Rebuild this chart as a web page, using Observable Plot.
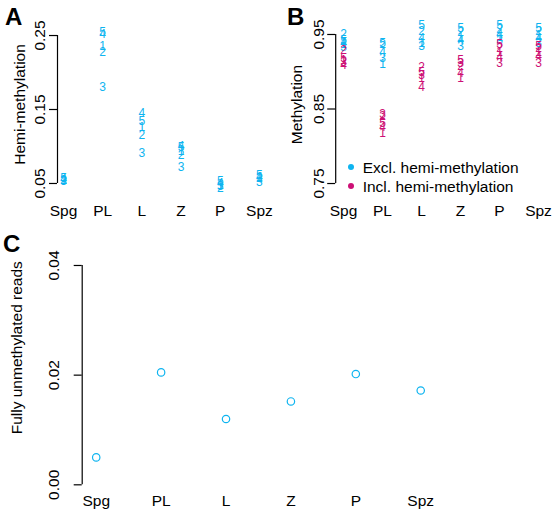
<!DOCTYPE html>
<html><head><meta charset="utf-8">
<script src="https://cdn.jsdelivr.net/npm/d3@7"></script>
<script src="https://cdn.jsdelivr.net/npm/@observablehq/plot@0.6"></script>
<style>
body{margin:0;background:#fff;}
#wrap{position:relative;width:554px;height:509px;font-family:"Liberation Sans",Arial,Helvetica,sans-serif;color:#000;overflow:hidden;background:#fff}
.panel{position:absolute}
.letter{position:absolute;font-weight:bold;font-size:24px;line-height:24px}
.legend{position:absolute;font-size:15.5px;line-height:19px;white-space:nowrap}
.legend .dot{display:inline-block;width:6px;height:6px;border-radius:50%;margin-right:9px;vertical-align:middle;position:relative;top:-1px}
</style></head><body><div id="wrap"></div>
<script>
// ---- data ----
const stages = ["Spg", "PL", "L", "Z", "P", "Spz"];
const stagePos = [1, 2, 3, 4, 5, 6];
const replicates = ["1", "2", "3", "4", "5"];

// Panel A: hemi-methylation, replicates 1..5 per stage
const hemiSpg = [0.055, 0.054, 0.053, 0.056, 0.057];
const hemiPL  = [0.236, 0.227, 0.180, 0.252, 0.254];
const hemiL   = [0.126, 0.115, 0.0905, 0.145, 0.134];
const hemiZ   = [0.094, 0.088, 0.072, 0.101, 0.099];
const hemiP   = [0.048, 0.044, 0.046, 0.050, 0.053];
const hemiSpz = [0.058, 0.057, 0.052, 0.059, 0.061];

// Panel B: methylation excluding hemi-methylation (cyan)
const exclSpg = [0.9366, 0.950, 0.9325, 0.939, 0.942];
const exclPL  = [0.910, 0.937, 0.918, 0.926, 0.939];
const exclL   = [0.939, 0.955, 0.935, 0.945, 0.962];
const exclZ   = [0.947, 0.953, 0.934, 0.942, 0.959];
const exclP   = [0.946, 0.957, 0.942, 0.951, 0.962];
const exclSpz = [0.949, 0.954, 0.939, 0.945, 0.959];

// Panel B: methylation including hemi-methylation (magenta)
const inclSpg = [0.915, 0.9285, 0.913, 0.909, 0.918];
const inclPL  = [0.818, 0.840, 0.843, 0.826, 0.831];
const inclL   = [0.891, 0.906, 0.895, 0.879, 0.899];
const inclZ   = [0.891, 0.908, 0.912, 0.898, 0.915];
const inclP   = [0.926, 0.931, 0.911, 0.920, 0.937];
const inclSpz = [0.926, 0.931, 0.911, 0.9205, 0.935];

// Panel C: fully unmethylated reads
const unmeth = [0.0050, 0.0205, 0.0120, 0.0152, 0.0202, 0.0172];

// tick values
const yTicksA = [0.05, 0.15, 0.25];
const yTicksB = [0.75, 0.85, 0.95];
const yTicksC = [0, 0.02, 0.04];

const legendLabels = ["Excl. hemi-methylation", "Incl. hemi-methylation"];
const cyan = "#0EB4F0";
const magenta = "#CD1076";
const font = '"Liberation Sans", Arial, Helvetica, sans-serif';

function rows(byStage) {
  return byStage.flatMap((vals, i) => vals.map((v, r) => ({x: stagePos[i], y: v, label: replicates[r]})));
}
const hemiRows = rows([hemiSpg, hemiPL, hemiL, hemiZ, hemiP, hemiSpz]);
const exclRows = rows([exclSpg, exclPL, exclL, exclZ, exclP, exclSpz]);
const inclRows = rows([inclSpg, inclPL, inclL, inclZ, inclP, inclSpz]);
const unmethRows = unmeth.map((v, i) => ({x: stagePos[i], y: v}));

const baseStyle = {fontFamily: font, fontSize: "15.5px", color: "#000", background: "transparent", overflow: "visible"};
const wrap = document.getElementById("wrap");
function place(el, left, top) {
  const d = document.createElement("div");
  d.className = "panel";
  d.style.left = left + "px"; d.style.top = top + "px";
  d.appendChild(el); wrap.appendChild(d);
}

// ---- Panel A ----
const xA0 = 0.847;
const A = Plot.plot({
  width: 277, height: 225, marginLeft: 57, marginRight: 10.2, marginTop: 24, marginBottom: 27,
  x: {domain: [xA0, 6.2]},
  y: {domain: [0.0297, 0.2649]},
  style: baseStyle,
  marks: [
    Plot.ruleX([xA0], {y1: yTicksA[0], y2: yTicksA[2], stroke: "#000", strokeWidth: 1.2}),
    Plot.axisY({ticks: yTicksA, tickFormat: d3.format(".2f"), tickRotate: -90, tickSize: 8, tickPadding: 5, label: null, strokeWidth: 1.2}),
    Plot.axisX({ticks: stagePos, tickFormat: d => stages[d - 1], tickSize: 0, tickPadding: 6, label: null}),
    Plot.text(["Hemi-methylation"], {x: xA0, y: 0.1568, rotate: -90, dx: -33, lineAnchor: "bottom", textAnchor: "middle"}),
    Plot.text(hemiRows, {x: "x", y: "y", text: "label", fill: cyan, fontSize: 12})
  ]
});
place(A, 0, 0);

// ---- Panel B ----
const xB0 = 0.8;
const B = Plot.plot({
  width: 277, height: 225, marginLeft: 58.2, marginRight: 8.2, marginTop: 24, marginBottom: 27,
  x: {domain: [xB0, 6.2]},
  y: {domain: [0.7299, 0.9634]},
  style: baseStyle,
  marks: [
    Plot.ruleX([xB0], {y1: yTicksB[0], y2: yTicksB[2], stroke: "#000", strokeWidth: 1.2}),
    Plot.axisY({ticks: yTicksB, tickFormat: d3.format(".2f"), tickRotate: -90, tickSize: 8, tickPadding: 4, label: null, strokeWidth: 1.2}),
    Plot.axisX({ticks: stagePos, tickFormat: d => stages[d - 1], tickSize: 0, tickPadding: 6, label: null}),
    Plot.text(["Methylation"], {x: xB0, y: 0.856, rotate: -90, dx: -34, lineAnchor: "bottom", textAnchor: "middle"}),
    Plot.text(exclRows, {x: "x", y: "y", text: "label", fill: cyan, fontSize: 12}),
    Plot.text(inclRows, {x: "x", y: "y", text: "label", fill: magenta, fontSize: 12})
  ]
});
place(B, 277, 0);

// legend for B
const leg = document.createElement("div");
leg.className = "legend";
leg.style.left = "347.7px"; leg.style.top = "157.5px";
leg.innerHTML = legendLabels.map((t, i) =>
  `<div><span class="dot" style="background:${i === 0 ? cyan : magenta}"></span>${t}</div>`).join("");
wrap.appendChild(leg);

// ---- Panel C ----
const xC0 = 0.784;
const C = Plot.plot({
  width: 554, height: 284, marginLeft: 81.7, marginRight: 120.8, marginTop: 30, marginBottom: 22,
  x: {domain: [xC0, 6.2]},
  y: {domain: [-0.00049, 0.04182]},
  style: baseStyle,
  marks: [
    Plot.ruleX([xC0], {y1: yTicksC[0], y2: yTicksC[2], stroke: "#000", strokeWidth: 1.2}),
    Plot.axisY({ticks: yTicksC, tickFormat: d3.format(".2f"), tickRotate: -90, tickSize: 8, tickPadding: 15, label: null, strokeWidth: 1.2}),
    Plot.axisX({ticks: stagePos, tickFormat: d => stages[d - 1], tickSize: 0, tickPadding: 7, label: null}),
    Plot.text(["Fully unmethylated reads"], {x: xC0, y: 0.025, rotate: -90, dx: -60.5, lineAnchor: "bottom", textAnchor: "middle"}),
    Plot.dot(unmethRows, {x: "x", y: "y", r: 3.7, stroke: cyan, fill: "none", strokeWidth: 1.2})
  ]
});
place(C, 0, 225);

// panel letters
[["A", 5, 5], ["B", 287, 5], ["C", 3, 232]].forEach(([t, l, tp]) => {
  const d = document.createElement("div");
  d.className = "letter"; d.textContent = t;
  d.style.left = l + "px"; d.style.top = tp + "px";
  wrap.appendChild(d);
});
</script></body></html>
